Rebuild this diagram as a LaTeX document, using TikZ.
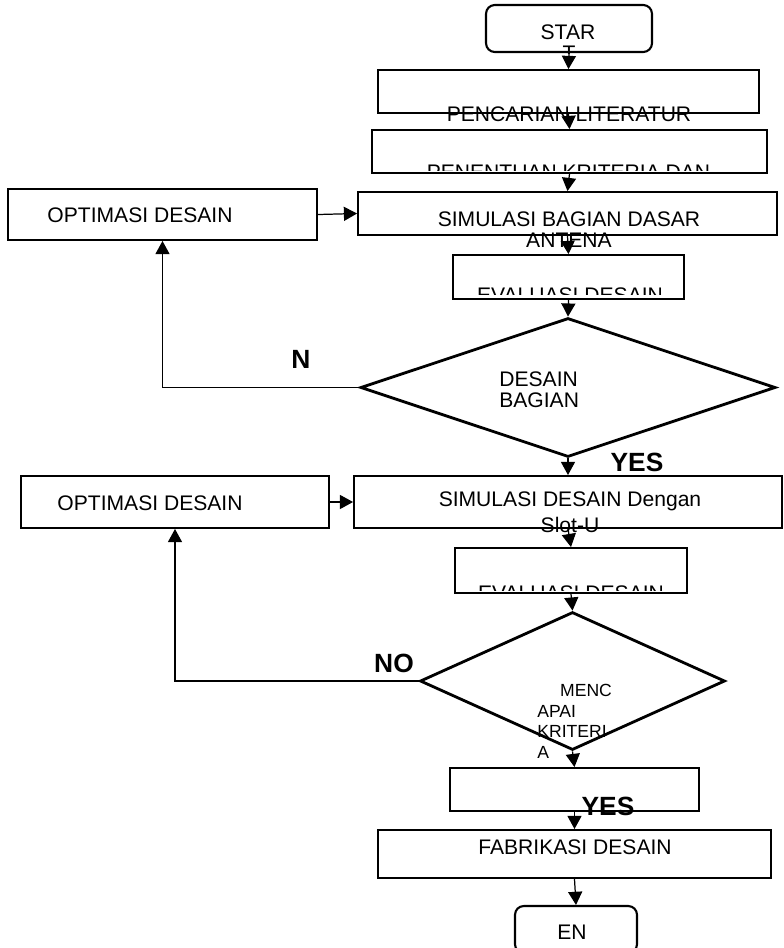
\documentclass[tikz,border=0pt]{standalone}
\usepackage{fontspec}
\setmainfont{Liberation Sans}
\usetikzlibrary{shapes.geometric, arrows.meta, positioning}
\tikzset{
    box/.style={rectangle, draw, line width=1.1pt, inner sep=0pt},
    terminal/.style={rectangle, rounded corners=5pt, draw, line width=1.2pt, inner sep=0pt},
    decision/.style={diamond, draw, line width=1.6pt, inner sep=0pt},
    txt/.style={inner sep=0pt, font=\fontsize{12}{12}\selectfont, align=center},
    small/.style={inner sep=0pt, font=\fontsize{10}{11.7}\selectfont, align=left},
    answer/.style={inner sep=0pt, font=\fontsize{15}{15}\selectfont\bfseries},
    flow/.style={-{Triangle[width=8pt,length=7.5pt]}, line width=0.7pt}
}

\begin{document}
\begin{tikzpicture}[x=0.02cm, y=-0.02cm]
    \useasboundingbox (0,0) rectangle (784,948);

    % Main column
    \node[terminal, minimum width=3.32cm, minimum height=0.94cm] (start) at (569,28.5) {};
    \node[box, minimum width=7.62cm, minimum height=0.86cm] (lit) at (568.5,91.5) {};
    \node[box, minimum width=7.9cm, minimum height=0.86cm] (krit) at (569.5,151.5) {};
    \node[box, minimum width=8.38cm, minimum height=0.86cm] (simdasar) at (567.5,213.5) {};
    \node[box, minimum width=4.62cm, minimum height=0.88cm] (eval1) at (568.5,277) {};
    \node[decision, minimum width=8.3cm, minimum height=2.78cm] (cek1) at (568,387.5) {};
    \node[box, minimum width=8.56cm, minimum height=1.04cm] (simslot) at (568,502) {};
    \node[box, minimum width=4.64cm, minimum height=0.9cm] (eval2) at (571,570.5) {};
    \node[decision, minimum width=6.1cm, minimum height=2.76cm] (cek2) at (572.5,681) {};
    \node[box, minimum width=4.98cm, minimum height=0.86cm] (hasil) at (574.5,789.5) {};
    \node[box, minimum width=7.86cm, minimum height=0.96cm] (fab) at (574.5,854) {};
    \node[terminal, minimum width=2.44cm, minimum height=0.94cm] (end) at (576,929.5) {};

    % Optimasi boxes
    \node[box, minimum width=6.18cm, minimum height=1.02cm] (optim1) at (162.5,214.5) {};
    \node[box, minimum width=6.16cm, minimum height=1.04cm] (optim2) at (175,502) {};

    % Texts
    \node[txt] (tstart) at (568,32) {STAR};
    \begin{scope}
        \clip (start.south west) rectangle (start.north east);
        \node[txt] (tstartb) at (569,53) {T};
    \end{scope}
    \node[txt] (tlit) at (569,114) {PENCARIAN LITERATUR};
    \begin{scope}
        \clip ([yshift=2pt]krit.south west) rectangle (krit.north east);
        \node[txt] (tkrit) at (568.5,172.5) {PENENTUAN KRITERIA DAN};
    \end{scope}
    \node[txt] (tsimdasar) at (569,230) {SIMULASI BAGIAN DASAR\\ANTENA};
    \begin{scope}
        \clip ([yshift=3pt]eval1.south west) rectangle (eval1.north east);
        \node[txt] (teval1) at (570,295.5) {EVALUASI DESAIN};
    \end{scope}
    \node[txt, align=left, anchor=west] (tcek1) at (499,390) {DESAIN\\BAGIAN};
    \node[txt, font=\fontsize{12}{14.8}\selectfont] (tsimslot) at (570,512.5) {SIMULASI DESAIN Dengan\\Slot-U};
    \begin{scope}
        \clip ([yshift=2pt]eval2.south west) rectangle (eval2.north east);
        \node[txt] (teval2) at (571,593.5) {EVALUASI DESAIN};
    \end{scope}
    \node[small, anchor=west] (tcek2) at (537,721.5) {\hspace*{13pt}MENC\\APAI\\KRITERI\\A};
    \node[txt] (tfab) at (575,847) {FABRIKASI DESAIN};
    \node[txt] (tend) at (572,932) {EN};
    \node[txt] (toptim1) at (140,215) {OPTIMASI DESAIN};
    \node[txt] (toptim2) at (150,503) {OPTIMASI DESAIN};

    % Answers
    \node[answer] (n1) at (301,359) {N};
    \node[answer] (yes1) at (637,462) {YES};
    \node[answer] (no2) at (394,663) {NO};
    \node[answer] (yes2) at (608,806) {YES};

    % Flows
    \draw[flow] (start.south) -- (lit.north);
    \draw[flow] (lit.south) -- (krit.north);
    \draw[flow] (krit.south) -- (simdasar.north);
    \draw[flow] (simdasar.south) -- (eval1.north);
    \draw[flow] (eval1.south) -- (cek1.north);
    \draw[flow] (cek1.south) -- (simslot.north);
    \draw[flow] (simslot.south) -- (eval2.north);
    \draw[flow] (eval2.south) -- (cek2.north);
    \draw[flow] (cek2.south) -- (hasil.north);
    \draw[flow] (hasil.south) -- (fab.north);
    \draw[flow] (fab.south) -- (end.north);
    \draw[flow] (optim1.east) -- (simdasar.west);
    \draw[flow] (optim2.east) -- (simslot.west);
    \draw[flow] (cek1.west) -| (optim1.south);
    \draw[flow] (cek2.west) -| (optim2.south);
\end{tikzpicture}
\end{document}
